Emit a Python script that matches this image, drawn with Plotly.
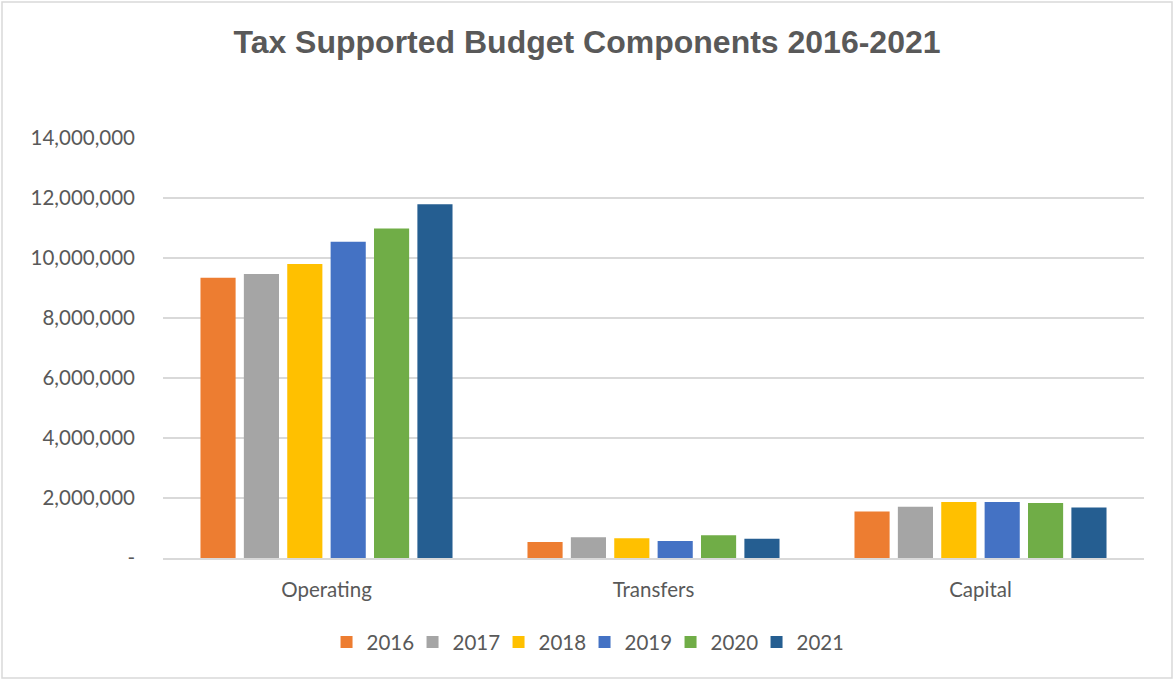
import plotly.graph_objects as go

categories = ["Operating", "Transfers", "Capital"]
years = ["2016", "2017", "2018", "2019", "2020", "2021"]
values = {
    "2016": [9340000, 530000, 1550000],
    "2017": [9470000, 690000, 1710000],
    "2018": [9800000, 660000, 1865000],
    "2019": [10540000, 570000, 1865000],
    "2020": [10980000, 760000, 1830000],
    "2021": [11790000, 640000, 1680000],
}
colors = ["#ED7D31", "#A5A5A5", "#FFC000", "#4472C4", "#70AD47", "#255E91"]

y_ticks = [0, 2000000, 4000000, 6000000, 8000000, 10000000, 12000000, 14000000]
y_tick_text = ["-", "2,000,000", "4,000,000", "6,000,000", "8,000,000",
               "10,000,000", "12,000,000", "14,000,000"]

text_color = "#595959"
font_family = "Lato, Open Sans, sans-serif"

fig = go.Figure()
for year, color in zip(years, colors):
    fig.add_trace(go.Bar(
        name=year, x=categories, y=values[year],
        marker=dict(color=color, line=dict(width=0)),
    ))

fig.update_layout(
    width=1174, height=680,
    paper_bgcolor="white", plot_bgcolor="white",
    margin=dict(l=163, r=30, t=138, b=122, autoexpand=False),
    barmode="group", bargap=0.204, bargroupgap=0.19,
    title=dict(
        text="<b>Tax Supported Budget Components 2016-2021</b>",
        x=0.5, xanchor="center", xref="container",
        y=1 - 42 / 680, yanchor="middle", yref="container",
        font=dict(family="Liberation Sans, Arial, sans-serif",
                  size=32, color=text_color),
    ),
    font=dict(family=font_family, size=20.5, color=text_color),
    legend=dict(
        orientation="h", x=0.4297, xanchor="center",
        y=-0.153, yanchor="top",
        font=dict(size=20.5, color=text_color), traceorder="normal",
        itemwidth=30, tracegroupgap=0,
        entrywidth=41, entrywidthmode="pixels",
    ),
    xaxis=dict(
        showgrid=False, showline=True, linecolor="#D9D9D9", linewidth=1.5,
        ticks="", ticklabelstandoff=13,
        tickfont=dict(size=20.5, color=text_color),
    ),
    yaxis=dict(
        range=[0, 14000000], tickvals=y_ticks, ticktext=y_tick_text,
        showgrid=True, gridcolor="#D9D9D9", gridwidth=1.5,
        zeroline=False, showline=False, ticks="",
        ticklabelstandoff=27,
        tickfont=dict(size=20.5, color=text_color),
    ),
    shapes=[dict(
        type="rect", xref="paper", yref="paper",
        x0=-161 / 981, x1=1 + 28 / 981, y0=-120 / 420, y1=1 + 136 / 420,
        line=dict(color="#D9D9D9", width=1.5), fillcolor="rgba(0,0,0,0)",
        layer="below",
    )],
)

fig.write_html("out.html")
